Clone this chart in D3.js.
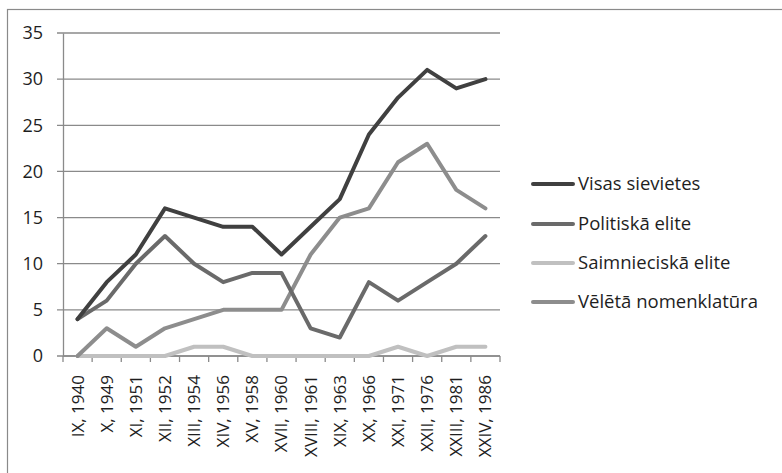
<!DOCTYPE html>
<html>
<head>
<meta charset="utf-8">
<script src="https://cdn.jsdelivr.net/npm/d3@7"></script>
<style>
  body { margin: 0; background: #fff; }
  text { font-family: "Open Sans", sans-serif; fill: #1e1e1e; }
</style>
</head>
<body>
<svg id="chart" width="782" height="473"></svg>
<script>
// categories (sessions, years)
var categories = ["IX, 1940", "X, 1949", "XI, 1951", "XII, 1952", "XIII, 1954", "XIV, 1956",
  "XV, 1958", "XVII, 1960", "XVIII, 1961", "XIX, 1963", "XX, 1966", "XXI, 1971",
  "XXII, 1976", "XXIII, 1981", "XXIV, 1986"];

var seriesNames = ["Visas sievietes", "Politiskā elite", "Saimnieciskā elite", "Vēlētā nomenklatūra"];
var visas = [4, 8, 11, 16, 15, 14, 14, 11, 14, 17, 24, 28, 31, 29, 30];
var politiska = [4, 6, 10, 13, 10, 8, 9, 9, 3, 2, 8, 6, 8, 10, 13];
var saimnieciska = [0, 0, 0, 0, 1, 1, 0, 0, 0, 0, 0, 1, 0, 1, 1];
var veleta = [0, 3, 1, 3, 4, 5, 5, 5, 11, 15, 16, 21, 23, 18, 16];
var yTicks = [0, 5, 10, 15, 20, 25, 30, 35];

var colors = ["#404040", "#6a6a6a", "#c0c0c0", "#8d8d8d"];
var allSeries = [visas, politiska, saimnieciska, veleta];

var svg = d3.select("#chart");

// outer frame
svg.append("rect")
  .attr("x", 7.5).attr("y", 9.5)
  .attr("width", 820).attr("height", 520)
  .attr("fill", "none").attr("stroke", "#8a8a8a").attr("stroke-width", 1.2);

var plotLeft = 63, plotRight = 500, plotTop = 33, plotBottom = 356;

var x = d3.scaleBand().domain(categories).range([plotLeft, plotRight]);
var y = d3.scaleLinear().domain([0, 35]).range([plotBottom, plotTop]);

// gridlines
svg.append("g").selectAll("line").data(yTicks).enter().append("line")
  .attr("x1", plotLeft - 6).attr("x2", plotRight)
  .attr("y1", d => y(d)).attr("y2", d => y(d))
  .attr("stroke", "#8a8a8a").attr("stroke-width", 1.3);

// y axis
var yAxis = svg.append("g")
  .attr("transform", "translate(" + plotLeft + ",0)")
  .call(d3.axisLeft(y).tickValues(yTicks).tickSize(0).tickPadding(20));
yAxis.select(".domain").attr("stroke", "#8a8a8a").attr("stroke-width", 1.3);
yAxis.selectAll("text").attr("font-size", "18px").style("font-family", "Open Sans, sans-serif").attr("fill", "#1e1e1e");

// x axis
var xAxis = svg.append("g")
  .attr("transform", "translate(0," + plotBottom + ")")
  .call(d3.axisBottom(x).tickSize(0));
xAxis.select(".domain").remove();
xAxis.append("line").attr("x1", plotLeft).attr("x2", plotRight)
  .attr("stroke", "#8a8a8a").attr("stroke-width", 1.3);
// ticks at category boundaries
var bounds = categories.map(c => x(c)).concat([plotRight]);
xAxis.selectAll(".bound").data(bounds).enter().append("line")
  .attr("class", "bound")
  .attr("x1", d => d).attr("x2", d => d)
  .attr("y1", 0).attr("y2", 6)
  .attr("stroke", "#8a8a8a").attr("stroke-width", 1.3);
xAxis.selectAll(".tick text")
  .attr("font-size", "17px")
  .style("font-family", "Open Sans, sans-serif")
  .attr("fill", "#1e1e1e")
  .attr("text-anchor", "end")
  .attr("transform", "rotate(-90)")
  .attr("x", -19).attr("y", 0).attr("dy", "0.35em");

// lines
var line = d3.line()
  .x((d, i) => x(categories[i]) + x.bandwidth() / 2)
  .y(d => y(d));

var drawOrder = [2, 3, 1, 0];
drawOrder.forEach(function (k) {
  svg.append("path")
    .datum(allSeries[k])
    .attr("d", line)
    .attr("fill", "none")
    .attr("stroke", colors[k])
    .attr("stroke-width", 4)
    .attr("stroke-linejoin", "round")
    .attr("stroke-linecap", "round");
});

// legend
var legendY = [184, 224, 263, 302];
var legend = svg.append("g").selectAll("g").data(seriesNames).enter().append("g")
  .attr("transform", (d, i) => "translate(533," + legendY[i] + ")");
legend.append("line")
  .attr("x1", 0).attr("x2", 40)
  .attr("stroke", (d, i) => colors[i])
  .attr("stroke-width", 4)
  .attr("stroke-linecap", "round");
legend.append("text")
  .attr("x", 45).attr("dy", "0.35em")
  .attr("font-size", "18.5px")
  .text(d => d);
</script>
</body>
</html>
